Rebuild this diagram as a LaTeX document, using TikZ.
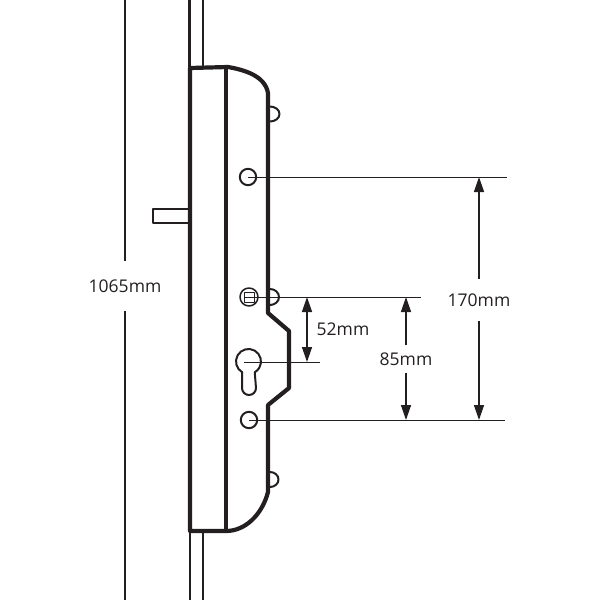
\documentclass[tikz,border=0pt]{standalone}
\usepackage{fontspec}
\setmainfont{Open Sans}
\usetikzlibrary{arrows.meta}
\definecolor{ink}{HTML}{231F20}
\tikzset{
    thick line/.style={ink, line width=4.2pt},
    thin line/.style={ink, line width=2.8pt},
    leader/.style={ink, line width=1pt},
    dim arrow/.style={ink, line width=1.4pt, -{Triangle[length=15pt,width=10pt]}},
    dim label/.style={text=ink, font=\fontsize{17.5}{20}\selectfont, inner sep=0pt, minimum height=42pt}
}
\begin{document}
\begin{tikzpicture}[x=1pt, y=-1pt, line join = round]
    \useasboundingbox (0,0) rectangle (600,600);

    \coordinate (S1) at (248,177);
    \coordinate (S2) at (249,297);
    \coordinate (S3) at (249,420);
    \coordinate (K) at (244,362);

    % rods
    \draw[thin line] (189.5,0)--(189.5,68);
    \draw[thin line] (203,0)--(203,68);
    \draw[thin line] (190,531)--(190,600);
    \draw[thin line] (203,531)--(203,600);

    % lever
    \draw[ink, line width=1.8pt] (189,209)--(153,209)--(153,223)--(189,223);

    % bumps
    \draw[ink, line width=2pt] (270,106.5) arc (-90:90:9.5 and 7.5);
    \draw[ink, line width=2pt] (270,289) arc (-90:90:9 and 8);
    \draw[ink, line width=2pt] (270,472) arc (-90:90:8.5 and 7.5);

    % case
    \draw[thick line] (190,68)--(228,67) .. controls (245,70) and (265,76) .. (268,93)
        --(268,313)--(289,331)--(289,388)--(268,405)--(268,492)
        .. controls (262,515) and (245,531) .. (226,531)--(190,531)--cycle;
    \draw[ink, line width=3.6pt] (226,67)--(226,531);

    % screws
    \draw[ink, line width=2pt] (S1) circle (8.2);
    \draw[ink, line width=2pt] (S3) circle (8.2);
    \draw[ink, line width=1.5pt] (S2) circle (9);
    \draw[ink, line width=1pt] (244.5,292.5) rectangle (254,302);
    \draw[ink, line width=.8pt] (244.5,297)--(254,297);

    % keyhole
    \draw[ink, line width=2pt] (242.25,372.3) arc (120:420:12.5) -- (256,388)
        arc (0:180:7) -- cycle;

    % leaders
    \coordinate (L1) at (507,177);
    \coordinate (L2) at (421,297);
    \coordinate (L3) at (320,362);
    \coordinate (L4) at (505,420);
    \draw[leader] (S1)--(L1);
    \draw[leader] (S2)--(L2);
    \draw[leader] (K)--(L3);
    \draw[leader] (S3)--(L4);

    % dimensions
    \node[dim label, minimum height=50pt] (d1065) at (125,286) {1065mm};
    \coordinate (T) at (125,0);
    \coordinate (B) at (125,600);
    \draw[leader, line width=1.4pt] (d1065)--(T);
    \draw[leader, line width=1.4pt] (d1065)--(B);

    \node[dim label] (d170) at (479,300) {170mm};
    \draw[dim arrow] (d170)--(479,177);
    \draw[dim arrow] (d170)--(479,420);

    \node[dim label, minimum height=27pt] (d85) at (406,359) {85mm};
    \draw[dim arrow] (d85)--(406,297);
    \draw[dim arrow] (d85)--(406,420);

    \node[dim label] (d52) at (343,329) {52mm};
    \draw[ink, line width=1.4pt, {Triangle[length=15pt,width=10pt]}-{Triangle[length=15pt,width=10pt]}] (307,297)--(307,362);
\end{tikzpicture}
\end{document}
